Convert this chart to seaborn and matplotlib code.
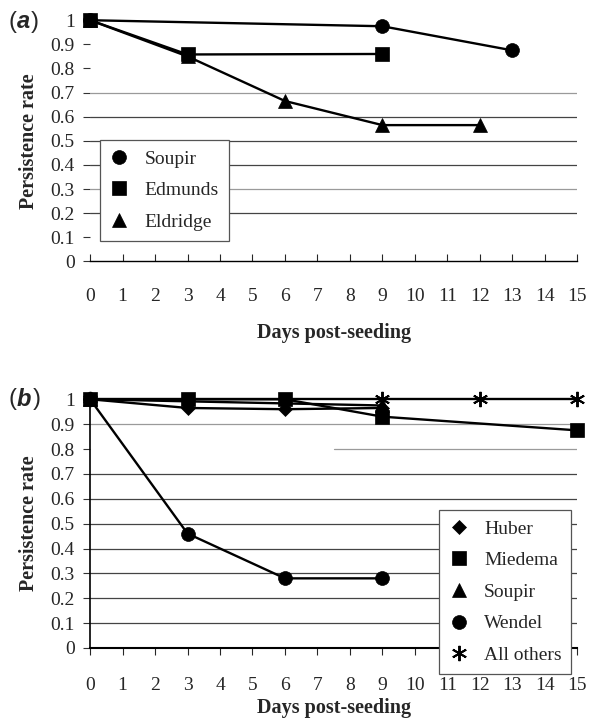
import matplotlib
matplotlib.use("Agg")
import matplotlib.pyplot as plt
from matplotlib.lines import Line2D
import seaborn as sns
import pandas as pd

# ---- data panel (a) ----
a_soupir_days = [0, 9, 13]
a_soupir_vals = [1.0, 0.975, 0.875]
a_edmunds_days = [0, 3, 9]
a_edmunds_vals = [1.0, 0.858, 0.86]
a_eldridge_days = [0, 3, 6, 9, 12]
a_eldridge_vals = [1.0, 0.85, 0.665, 0.565, 0.565]

# ---- data panel (b) ----
b_huber_days = [0, 3, 6, 9]
b_huber_vals = [1.0, 0.965, 0.96, 0.965]
b_miedema_days = [0, 3, 6, 9, 15]
b_miedema_vals = [1.0, 1.0, 1.0, 0.93, 0.875]
b_soupir_days = [0, 9]
b_soupir_vals = [1.0, 0.975]
b_wendel_days = [0, 3, 6, 9]
b_wendel_vals = [1.0, 0.46, 0.28, 0.28]
b_others_days = [0, 9, 12, 15]
b_others_vals = [1.0, 1.0, 1.0, 1.0]

x_ticks = list(range(0, 16))
y_ticks = [0, 0.1, 0.2, 0.3, 0.4, 0.5, 0.6, 0.7, 0.8, 0.9, 1]
y_ticklabels = ["0", "0.1", "0.2", "0.3", "0.4", "0.5", "0.6", "0.7", "0.8", "0.9", "1"]

sns.set_theme(style="white")
plt.rcParams["font.family"] = ["Liberation Serif", "DejaVu Serif"]

def long_df(series):
    rows = []
    for name, days, vals in series:
        for d, v in zip(days, vals):
            rows.append({"series": name, "day": d, "rate": v})
    return pd.DataFrame(rows)

dfa = long_df([("Soupir", a_soupir_days, a_soupir_vals),
               ("Edmunds", a_edmunds_days, a_edmunds_vals),
               ("Eldridge", a_eldridge_days, a_eldridge_vals)])
dfb = long_df([("All others", b_others_days, b_others_vals),
               ("Huber", b_huber_days, b_huber_vals),
               ("Soupir", b_soupir_days, b_soupir_vals),
               ("Wendel", b_wendel_days, b_wendel_vals),
               ("Miedema", b_miedema_days, b_miedema_vals)])

markers_a = {"Soupir": "o", "Edmunds": "s", "Eldridge": "^"}
markers_b = {"Huber": "D", "Miedema": "s", "Soupir": "^", "Wendel": "o", "All others": (6, 2, 0)}
msize = {"o": 10, "s": 10, "^": 10, "D": 7.5}

TICK_FS = 14
LAB_FS = 14.5

fig = plt.figure(figsize=(5.89, 7.22), dpi=100)
ax_a = fig.add_axes([0.153, 0.638, 0.827, 0.334])
ax_b = fig.add_axes([0.153, 0.1025, 0.827, 0.3445])

def draw(ax, df, markers, order):
    for name in order:
        sub = df[df.series == name]
        m = markers[name]
        ms = msize.get(m, 11) if isinstance(m, str) else 11
        sns.lineplot(data=sub, x="day", y="rate", ax=ax, color="black", lw=1.7,
                     marker=m, markersize=ms, markeredgewidth=1.4 if not isinstance(m, str) else 0.5,
                     markeredgecolor="black", markerfacecolor="black",
                     legend=False, clip_on=False, zorder=5)

draw(ax_a, dfa, markers_a, ["Soupir", "Eldridge", "Edmunds"])
draw(ax_b, dfb, markers_b, ["All others", "Huber", "Soupir", "Wendel", "Miedema"])

# grid lines
grid_a = {0.7: "#9a9a9a", 0.6: "#444444", 0.5: "#444444", 0.4: "#444444", 0.3: "#9a9a9a", 0.2: "#444444"}
for yv, c in grid_a.items():
    ax_a.axhline(yv, xmin=0, xmax=1, color=c, lw=0.9, zorder=1)
grid_b = {0.9: "#9a9a9a", 0.7: "#444444", 0.6: "#444444", 0.5: "#444444",
          0.4: "#444444", 0.3: "#444444", 0.2: "#444444", 0.1: "#444444"}
for yv, c in grid_b.items():
    ax_b.axhline(yv, xmin=0, xmax=1, color=c, lw=0.9, zorder=1)
ax_b.axhline(0.8, xmin=0.5, xmax=1, color="#9a9a9a", lw=0.9, zorder=1)

for ax in (ax_a, ax_b):
    ax.set_xlim(0, 15)
    ax.set_ylim(0, 1)
    ax.set_xticks(x_ticks)
    ax.set_xticklabels([str(t) for t in x_ticks], fontsize=TICK_FS)
    ax.set_yticks(y_ticks)
    ax.set_yticklabels(y_ticklabels, fontsize=TICK_FS)
    ax.set_ylabel("Persistence rate", fontsize=LAB_FS, fontweight="bold", labelpad=8)
    ax.set_facecolor("none")
    for s in ("top", "right"):
        ax.spines[s].set_visible(False)
    ax.spines["bottom"].set_color("black")
    ax.spines["bottom"].set_linewidth(1.0)
    ax.tick_params(axis="y", left=True, length=5, width=0.8, color="#333333", pad=6)

ax_a.set_xlabel("Days post-seeding", fontsize=LAB_FS, fontweight="bold", labelpad=13)
ax_b.set_xlabel("Days post-seeding", fontsize=LAB_FS, fontweight="bold", labelpad=3)

ax_a.spines["left"].set_visible(False)
ax_a.tick_params(axis="x", bottom=True, direction="in", length=5, width=0.8, pad=19)
ax_b.spines["left"].set_color("black")
ax_b.spines["left"].set_linewidth(1.2)
ax_b.spines["bottom"].set_linewidth(1.5)
ax_b.tick_params(axis="x", bottom=True, direction="out", length=5, width=0.8, pad=16)

def legend(ax, names, markers, loc, anchor):
    handles = []
    for n in names:
        m = markers[n]
        ms = msize.get(m, 11) if isinstance(m, str) else 11
        handles.append(Line2D([], [], ls="none", marker=m, markersize=ms, color="black",
                              markeredgewidth=1.4 if not isinstance(m, str) else 0.5))
    lg = ax.legend(handles, names, loc=loc, bbox_to_anchor=anchor, frameon=True,
                   fancybox=False, edgecolor="#555555", framealpha=1, fontsize=14,
                   handlelength=1.0, handletextpad=0.8, labelspacing=0.72, borderpad=0.5,
                   borderaxespad=0)
    lg.get_frame().set_linewidth(0.9)
    lg.set_zorder(10)
    return lg

legend(ax_a, ["Soupir", "Edmunds", "Eldridge"], markers_a, "upper left", (0.02, 0.502))
legend(ax_b, ["Huber", "Miedema", "Soupir", "Wendel", "All others"], markers_b,
       "upper left", (0.717, 0.554))

def panel_label(x, y, letter):
    t1 = fig.text(x, y, "(", fontsize=17, family="Liberation Sans", va="center")
    t2 = fig.text(0, 0, letter, fontsize=17, family="Liberation Sans", fontweight="bold",
                  fontstyle="italic", va="center")
    fig.canvas.draw()
    r = fig.canvas.get_renderer()
    bb = t1.get_window_extent(r)
    t2.set_position((bb.x1 / fig.bbox.width, y))
    fig.canvas.draw()
    bb2 = t2.get_window_extent(r)
    fig.text(bb2.x1 / fig.bbox.width + 0.002, y, ")", fontsize=17, family="Liberation Sans", va="center")

panel_label(0.015, 1 - 22 / 722, "a")
panel_label(0.015, 1 - 399 / 722, "b")

fig.savefig("out.png", dpi=100)
